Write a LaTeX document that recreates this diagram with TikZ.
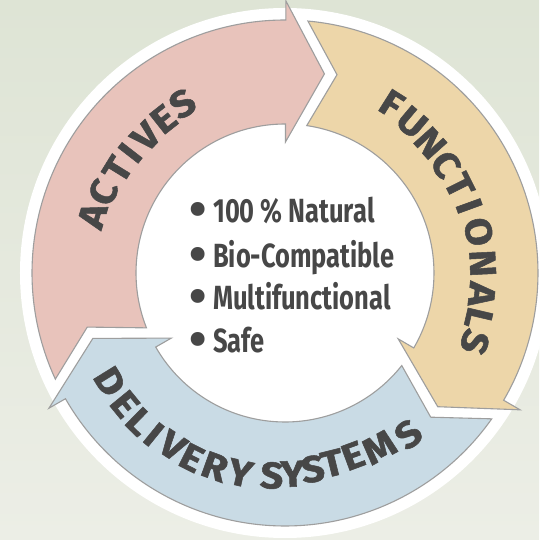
\documentclass[tikz,border=0pt]{standalone}
\usepackage{fontspec}
\newfontfamily\listfont{Fira Sans}[FakeStretch=0.76]
\newfontfamily\arcfont{Fira Sans}[FakeBold=1.4,FakeStretch=1.1]
\newfontfamily\bulfont{Fira Sans}
\definecolor{bgtop}{HTML}{DEE4D5}
\definecolor{bgbot}{HTML}{ECEEE6}
\definecolor{pinkf}{HTML}{E8C3BB}
\definecolor{beigef}{HTML}{EDD6A9}
\definecolor{bluef}{HTML}{C9DBE5}
\definecolor{edgec}{HTML}{9E9E9E}
\definecolor{inkc}{HTML}{474747}
\newcommand{\cyclearrow}[2]{%
  \pgfmathsetmacro{\ta}{#1+120-5}%
  \pgfmathsetmacro{\tb}{#1+120-8.2}%
  \pgfmathsetmacro{\tn}{#1+120-14.5}%
  \pgfmathsetmacro{\tp}{#1-11}%
  \draw[band, fill=#2] (\ta:253) arc[start angle=\ta, end angle=#1, radius=253]
    -- (#1:272) -- (\tp:203) -- (#1:131) -- (#1:149)
    arc[start angle=#1, end angle=\tb, radius=149] -- (\tn:205) -- cycle;}
\begin{document}
\begin{tikzpicture}[x=1pt,y=1pt,
  band/.style={draw=edgec, line width=1.1pt, line join=miter},
  arclet/.style={font=\arcfont\bfseries\fontsize{37}{37}\selectfont, text=inkc, inner sep=0pt},
  listtxt/.style={font=\listfont\bfseries\fontsize{33.5}{33.5}\selectfont, text=inkc, inner sep=0pt, anchor=base west},
  bul/.style={font=\bulfont\bfseries\fontsize{50}{50}\selectfont, text=inkc, inner sep=0pt}]
\useasboundingbox (-285,-267) rectangle (254,273);
\fill[top color=bgtop, bottom color=bgbot] (-285,-267) rectangle (254,273);
\fill[white] (0,0) circle[radius=265];
\cyclearrow{89.8}{pinkf}
\cyclearrow{-30.2}{beigef}
\cyclearrow{209.8}{bluef}
% curved labels
\foreach \ch/\a/\r [count=\i] in {A/163.4/201,C/156.1/199,T/148.3/197,I/142.2/196,V/135.6/195,E/128.3/196,S/121.2/198}
  \node[arclet, rotate=\a-90] (act\i) at (\a:\r) {\ch};
\foreach \ch/\a/\r [count=\i] in {F/57.8/200,U/49.9/197,N/41.8/195,C/34.0/194,T/26.6/195,I/20.0/196,O/12.0/198,N/2.8/198,A/-6.2/198,L/-13.2/199,S/-20/202}
  \node[arclet, rotate=\a-90] (fun\i) at (\a:\r) {\ch};
\foreach \ch/\a/\r [count=\i] in {D/211.8/206,E/219.3/207,L/225.6/208,I/230.9/208,V/236.9/206,E/243.2/207,R/250.1/206,Y/257.4/205,S/266.3/203,Y/272.2/201,S/278.1/198,T/284.0/196,E/290.4/195,M/298.4/198,S/307.4/203}
  \node[arclet, rotate=\a+90] (del\i) at (\a:\r) {\ch};
% list
\node[listtxt] (n1) at (-72,50) {100 \% Natural};
\node[listtxt] (n2) at (-72,5) {Bio-Compatible};
\node[listtxt] (n3) at (-72,-37) {Multifunctional};
\node[listtxt] (n4) at (-72,-80) {Safe};
\node[bul] (b1) at (-86.5,58.3) {•};
\node[bul] (b2) at (-86.5,13.3) {•};
\node[bul] (b3) at (-86.5,-28.7) {•};
\node[bul] (b4) at (-86.5,-71.7) {•};
\end{tikzpicture}
\end{document}
